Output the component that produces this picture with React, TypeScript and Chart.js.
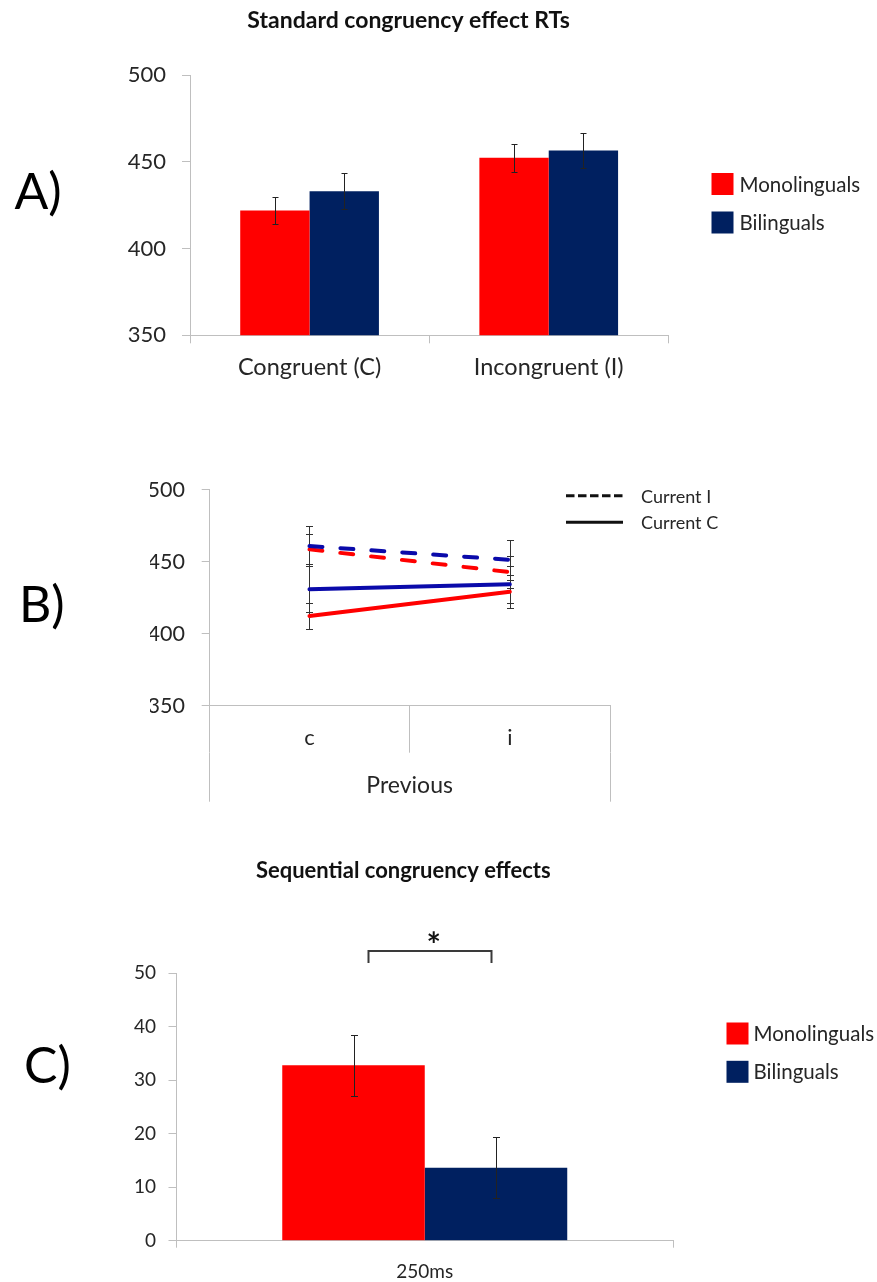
import { useEffect, useRef } from 'react';
import { Chart, registerables } from 'chart.js';

Chart.register(...registerables);

// ---------- shared ----------
const seriesLabels = ['Monolinguals', 'Bilinguals'];

// ---------- Panel A: Standard congruency effect RTs ----------
const aTitle = 'Standard congruency effect RTs';
const aCategories = ['Congruent (C)', 'Incongruent (I)'];
const aMono = [422, 452.4];
const aMonoErr = [7.6, 7.9];
const aBi = [433.1, 456.6];
const aBiErr = [10.3, 10.2];
const aTickMin = 350;
const aTickMax = 500;
const aTickStep = 50;

// ---------- Panel B: previous x current ----------
const bCategories = ['c', 'i'];
const bXTitle = 'Previous';
const bLegend = ['Current I', 'Current C'];
const bBiI = [460.8, 451.3];
const bBiIErr = [14, 14];
const bMonoI = [458.5, 442.7];
const bMonoIErr = [10.4, 10.9];
const bBiC = [430.9, 434.3];
const bBiCErr = [15.9, 12.9];
const bMonoC = [412.3, 429.1];
const bMonoCErr = [9, 11.3];
const bTickMin = 350;
const bTickMax = 500;
const bTickStep = 50;

// ---------- Panel C: Sequential congruency effects ----------
const cTitle = 'Sequential congruency effects';
const cCategories = ['250ms'];
const cMono = [32.8];
const cMonoErr = [5.7];
const cBi = [13.65];
const cBiErr = [5.7];
const cTickMin = 0;
const cTickMax = 50;
const cTickStep = 10;
const cSignificance = '*';

// ---------- styles ----------
const FONT = 'Lato, "Noto Sans", sans-serif';
const TEXT = '#262626';
const AXIS = '#BFBFBF';
const RED = '#FF0000';
const NAVY = '#002060';
const LINE_BLUE = '#0A0AAA';
const ERR = '#222222';

function drawErrorBars(chart: any, opts: any) {
  const ctx = chart.ctx;
  ctx.save();
  ctx.strokeStyle = opts.color || ERR;
  ctx.lineWidth = opts.lineWidth || 1;
  chart.data.datasets.forEach((ds: any, di: number) => {
    const errs = ds.errors;
    if (!errs) return;
    const meta = chart.getDatasetMeta(di);
    const yScale = chart.scales[meta.yAxisID];
    meta.data.forEach((el: any, i: number) => {
      const v = ds.data[i];
      const e = errs[i];
      const x = Math.round(el.x) + 0.5;
      const yt = Math.round(yScale.getPixelForValue(v + e)) + 0.5;
      const yb = Math.round(yScale.getPixelForValue(v - e)) + 0.5;
      const c = opts.cap || 3;
      ctx.beginPath();
      ctx.moveTo(x, yt);
      ctx.lineTo(x, yb);
      ctx.moveTo(x - c, yt);
      ctx.lineTo(x + c, yt);
      ctx.moveTo(x - c, yb);
      ctx.lineTo(x + c, yb);
      ctx.stroke();
    });
  });
  ctx.restore();
}

const errorBarPlugin = {
  id: 'errorBars',
  beforeDatasetsDraw(chart: any, _a: any, opts: any) {
    if (opts.behind) drawErrorBars(chart, opts);
  },
  afterDatasetsDraw(chart: any, _a: any, opts: any) {
    if (!opts.behind) drawErrorBars(chart, opts);
  },
};

const panelTitlePlugin = {
  id: 'panelTitle',
  afterDraw(chart: any, _a: any, opts: any) {
    const ctx = chart.ctx;
    ctx.save();
    ctx.fillStyle = '#111';
    ctx.font = `bold ${opts.size}px ${FONT}`;
    ctx.textAlign = 'center';
    ctx.textBaseline = 'middle';
    ctx.fillText(opts.text, opts.x, opts.y);
    ctx.restore();
  },
};

const boxLegendPlugin = {
  id: 'boxLegend',
  afterDraw(chart: any, _a: any, opts: any) {
    const ctx = chart.ctx;
    ctx.save();
    ctx.font = `${opts.size}px ${FONT}`;
    ctx.textBaseline = 'middle';
    ctx.textAlign = 'left';
    chart.data.datasets.forEach((ds: any, i: number) => {
      const cy = opts.y + i * opts.spacing;
      ctx.fillStyle = ds.backgroundColor;
      ctx.fillRect(opts.x, cy - opts.box / 2, opts.box, opts.box);
      ctx.fillStyle = TEXT;
      ctx.fillText(ds.label, opts.x + opts.box + opts.gap, cy + 1);
    });
    ctx.restore();
  },
};

const lineLegendPlugin = {
  id: 'lineLegend',
  afterDraw(chart: any, _a: any, opts: any) {
    const ctx = chart.ctx;
    ctx.save();
    ctx.font = `${opts.size}px ${FONT}`;
    ctx.textBaseline = 'middle';
    ctx.textAlign = 'left';
    opts.items.forEach((it: any, i: number) => {
      const cy = opts.y + i * opts.spacing;
      ctx.strokeStyle = '#111';
      ctx.lineWidth = opts.lineWidth;
      ctx.setLineDash(it.dash);
      ctx.beginPath();
      ctx.moveTo(opts.x, cy);
      ctx.lineTo(opts.x + opts.length, cy);
      ctx.stroke();
      ctx.setLineDash([]);
      ctx.fillStyle = TEXT;
      ctx.fillText(it.label, opts.textX, cy + 1);
    });
    ctx.restore();
  },
};

const bracketPlugin = {
  id: 'sigBracket',
  afterDraw(chart: any, _a: any, opts: any) {
    const m0 = chart.getDatasetMeta(0).data[0];
    const m1 = chart.getDatasetMeta(1).data[0];
    if (!m0 || !m1) return;
    const ctx = chart.ctx;
    const x1 = Math.round(m0.x + opts.insetLeft) + 0.5;
    const x2 = Math.round(m1.x - opts.insetRight) + 0.5;
    const y = chart.chartArea.top - opts.rise;
    ctx.save();
    ctx.strokeStyle = '#3a3a3a';
    ctx.lineWidth = 2;
    ctx.beginPath();
    ctx.moveTo(x1, y + opts.leg);
    ctx.lineTo(x1, y);
    ctx.lineTo(x2, y);
    ctx.lineTo(x2, y + opts.leg);
    ctx.stroke();
    ctx.fillStyle = '#111';
    ctx.font = `bold ${opts.size}px ${FONT}`;
    ctx.textAlign = 'center';
    ctx.textBaseline = 'alphabetic';
    ctx.fillText(opts.text, (x1 + x2) / 2 + opts.textDx, y - opts.textGap);
    ctx.restore();
  },
};

function yAxis(min: number, max: number, step: number, width: number, tick: number, pad: number, size: number) {
  return {
    min,
    max,
    ticks: { stepSize: step, padding: pad, color: TEXT, font: { family: FONT, size } },
    grid: { drawOnChartArea: false, tickLength: tick, color: AXIS, lineWidth: 1 },
    border: { color: AXIS, width: 1 },
    afterFit: (s: any) => {
      s.width = width;
    },
  };
}

export default function App() {
  const aRef = useRef<HTMLCanvasElement>(null);
  const bRef = useRef<HTMLCanvasElement>(null);
  const cRef = useRef<HTMLCanvasElement>(null);

  useEffect(() => {
    const charts: Chart[] = [];

    // Panel A
    charts.push(
      new Chart(aRef.current as HTMLCanvasElement, {
        type: 'bar',
        data: {
          labels: aCategories,
          datasets: [
            { label: seriesLabels[0], data: aMono, errors: aMonoErr, backgroundColor: RED, categoryPercentage: 0.58, barPercentage: 1 } as any,
            { label: seriesLabels[1], data: aBi, errors: aBiErr, backgroundColor: NAVY, categoryPercentage: 0.58, barPercentage: 1 } as any,
          ],
        },
        options: {
          responsive: false,
          animation: false,
          devicePixelRatio: 1,
          layout: { padding: { left: 120, right: 208.7, top: 75.3, bottom: 0 } },
          plugins: {
            legend: { display: false },
            tooltip: { enabled: false },
            title: { display: false },
            panelTitle: { text: aTitle, x: 408.6, y: 20.5, size: 23 },
            errorBars: { cap: 3, lineWidth: 1, color: ERR },
            boxLegend: { x: 711.5, y: 184, spacing: 38.5, box: 22, gap: 6, size: 20.5 },
          } as any,
          scales: {
            x: {
              offset: true,
              grid: { offset: true, drawOnChartArea: false, tickLength: 8, color: AXIS },
              border: { color: AXIS },
              ticks: { padding: 10, color: TEXT, font: { family: FONT, size: 23.5 } },
              afterFit: (s: any) => {
                s.height = 64.7;
              },
            },
            y: yAxis(aTickMin, aTickMax, aTickStep, 70, 8, 16, 22),
          } as any,
        },
        plugins: [errorBarPlugin, boxLegendPlugin, panelTitlePlugin],
      })
    );

    // Panel B
    const lineDs = (label: string, data: number[], errors: number[], color: string, dashed: boolean) =>
      ({
        label,
        data,
        errors,
        borderColor: color,
        backgroundColor: color,
        borderWidth: 4,
        borderDash: dashed ? [13, 18] : [],
        borderCapStyle: 'round',
        pointRadius: 0,
        fill: false,
        tension: 0,
      }) as any;
    charts.push(
      new Chart(bRef.current as HTMLCanvasElement, {
        type: 'line',
        data: {
          labels: bCategories,
          datasets: [
            lineDs(`${seriesLabels[1]} – ${bLegend[0]}`, bBiI, bBiIErr, LINE_BLUE, true),
            lineDs(`${seriesLabels[1]} – ${bLegend[1]}`, bBiC, bBiCErr, LINE_BLUE, false),
            lineDs(`${seriesLabels[0]} – ${bLegend[0]}`, bMonoI, bMonoIErr, RED, true),
            lineDs(`${seriesLabels[0]} – ${bLegend[1]}`, bMonoC, bMonoCErr, RED, false),
          ],
        },
        options: {
          responsive: false,
          animation: false,
          devicePixelRatio: 1,
          layout: { padding: { left: 150, right: 267, top: 25, bottom: 18.3 } },
          plugins: {
            legend: { display: false },
            tooltip: { enabled: false },
            errorBars: { cap: 3.5, lineWidth: 1, color: '#333', behind: true },
            lineLegend: {
              x: 566,
              length: 57,
              y: 35.7,
              spacing: 26.6,
              lineWidth: 3,
              textX: 641,
              size: 18,
              items: [
                { label: bLegend[0], dash: [8.5, 3.5] },
                { label: bLegend[1], dash: [] },
              ],
            },
          } as any,
          scales: {
            x: {
              type: 'category',
              offset: true,
              weight: 0,
              grid: { offset: true, drawOnChartArea: false, tickLength: 47, color: AXIS },
              border: { color: AXIS },
              ticks: { padding: -28, color: TEXT, font: { family: FONT, size: 22 } },
              afterFit: (s: any) => {
                s.height = 47;
              },
            },
            x2: {
              type: 'category',
              position: 'bottom',
              labels: [bXTitle],
              offset: true,
              weight: 1,
              grid: { offset: true, drawOnChartArea: false, tickLength: 49, color: AXIS },
              border: { display: false },
              ticks: { padding: -29.5, color: TEXT, font: { family: FONT, size: 23 } },
              afterFit: (s: any) => {
                s.height = 49;
              },
            },
            y: yAxis(bTickMin, bTickMax, bTickStep, 59.3, 7.6, 16.7, 21.5),
          } as any,
        },
        plugins: [errorBarPlugin, lineLegendPlugin],
      })
    );

    // Panel C
    charts.push(
      new Chart(cRef.current as HTMLCanvasElement, {
        type: 'bar',
        data: {
          labels: cCategories,
          datasets: [
            { label: seriesLabels[0], data: cMono, errors: cMonoErr, backgroundColor: RED, categoryPercentage: 0.574, barPercentage: 1 } as any,
            { label: seriesLabels[1], data: cBi, errors: cBiErr, backgroundColor: NAVY, categoryPercentage: 0.574, barPercentage: 1 } as any,
          ],
        },
        options: {
          responsive: false,
          animation: false,
          devicePixelRatio: 1,
          layout: { padding: { left: 116.5, right: 204, top: 133.3, bottom: 0 } },
          plugins: {
            legend: { display: false },
            tooltip: { enabled: false },
            title: { display: false },
            panelTitle: { text: cTitle, x: 403.3, y: 30.5, size: 22 },
            errorBars: { cap: 3.5, lineWidth: 1, color: ERR },
            boxLegend: { x: 726.5, y: 193.5, spacing: 38.3, box: 22, gap: 5, size: 20.5 },
            sigBracket: { insetLeft: 14.5, insetRight: 5.3, rise: 22.3, leg: 12, text: cSignificance, size: 34, textDx: 3.6, textGap: -6 },
          } as any,
          scales: {
            x: {
              offset: true,
              grid: { offset: true, drawOnChartArea: false, tickLength: 7, color: AXIS },
              border: { color: AXIS },
              ticks: { padding: 13, color: TEXT, font: { family: FONT, size: 19 } },
              afterFit: (s: any) => {
                s.height = 41.3;
              },
            },
            y: yAxis(cTickMin, cTickMax, cTickStep, 60, 8, 12.5, 19),
          } as any,
        },
        plugins: [errorBarPlugin, boxLegendPlugin, bracketPlugin, panelTitlePlugin],
      })
    );

    return () => {
      charts.forEach((c) => c.destroy());
    };
  }, []);

  const letter = (text: string, left: number, top: number) => (
    <div
      style={{
        position: 'absolute',
        left,
        top,
        fontFamily: FONT,
        fontSize: 50,
        lineHeight: '50px',
        color: '#000',
      }}
    >
      {text}
    </div>
  );

  return (
    <div style={{ position: 'absolute', left: 0, top: 0, width: 877, height: 1282, background: '#fff', overflow: 'hidden' }}>
      <canvas ref={aRef} width={877} height={400} style={{ position: 'absolute', left: 0, top: 0, width: 877, height: 400 }} />
      <canvas ref={bRef} width={877} height={360} style={{ position: 'absolute', left: 0, top: 460, width: 877, height: 360 }} />
      <canvas ref={cRef} width={877} height={442} style={{ position: 'absolute', left: 0, top: 840, width: 877, height: 442 }} />
      {letter('A)', 14.5, 165)}
      {letter('B)', 19, 578)}
      {letter('C)', 24, 1039)}
    </div>
  );
}
